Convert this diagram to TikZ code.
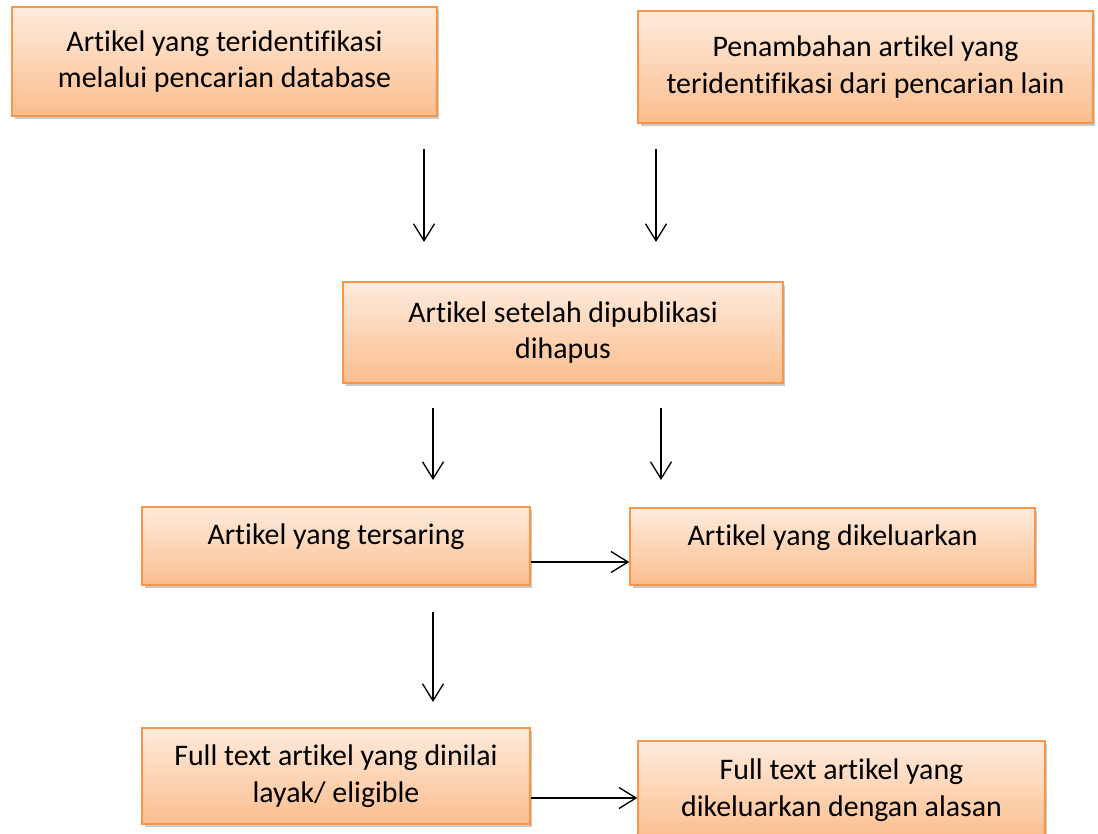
\documentclass[tikz,border=0pt]{standalone}
\usepackage{fontspec}
\setmainfont{Carlito}[Ligatures=NoCommon]
\usepackage{tikz}
\usetikzlibrary{arrows.meta,positioning,shadows}

\definecolor{boxtop}{RGB}{254,235,220}
\definecolor{boxbot}{RGB}{251,190,142}
\definecolor{boxline}{RGB}{247,150,70}

\begin{document}
\begin{tikzpicture}[
  x=0.02cm, y=-0.02cm,
  block/.style={rectangle, draw=boxline, line width=0.9pt, top color=boxtop,
                bottom color=boxbot, text centered, align=center,
                font=\fontsize{17pt}{21pt}\selectfont,
                drop shadow={shadow xshift=0.05cm, shadow yshift=-0.06cm,
                             opacity=0.35, fill=black!60}},
  arrow/.style={-{Straight Barb[length=0.34cm, width=0.42cm]}, line width=0.75pt},
]
  \useasboundingbox (0,0) rectangle (1098,834);
  \clip (0,0) rectangle (1098,834);

  % Nodes
  \node[block, minimum width=8.5cm, minimum height=2.18cm] (db) at (224.5,61.5)
    {Artikel yang teridentifikasi\\melalui pencarian database};
  \node[block, minimum width=9.1cm, minimum height=2.24cm] (lain) at (865.5,67)
    {Penambahan artikel yang\\teridentifikasi dari pencarian lain};
  \node[block, minimum width=8.8cm, minimum height=2.02cm] (hapus) at (563,332.5)
    {Artikel setelah dipublikasi\\dihapus};
  \node[block, minimum width=7.76cm, minimum height=1.56cm, text depth=0.46cm] (saring) at (336,546)
    {Artikel yang tersaring};
  \node[block, minimum width=8.1cm, minimum height=1.54cm, text depth=0.46cm] (keluar) at (832.5,546.5)
    {Artikel yang dikeluarkan};
  \node[block, minimum width=7.76cm, minimum height=1.92cm] (layak) at (336,776)
    {Full text artikel yang dinilai\\layak/ eligible};
  \node[block, minimum width=8.14cm, minimum height=1.96cm] (alasan) at (841.5,790)
    {Full text artikel yang\\dikeluarkan dengan alasan};

  % Free arrow ends
  \coordinate (a1) at (424,149);  \coordinate (b1) at (424,242);
  \coordinate (a2) at (656,149);  \coordinate (b2) at (656,242);
  \coordinate (a3) at (433,408);  \coordinate (b3) at (433,480);
  \coordinate (a4) at (661,408);  \coordinate (b4) at (661,480);
  \coordinate (a5) at (433,612);  \coordinate (b5) at (433,702);

  % Arrows
  \draw[arrow] (a1) -- (b1);
  \draw[arrow] (a2) -- (b2);
  \draw[arrow] (a3) -- (b3);
  \draw[arrow] (a4) -- (b4);
  \draw[arrow] ([yshift=-0.32cm]saring.east) -- ([yshift=-0.32cm]saring.east -| keluar.west);
  \draw[arrow] (a5) -- (b5);
  \draw[arrow] ([yshift=-0.44cm]layak.east) -- ([yshift=-0.44cm]layak.east -| alasan.west);
\end{tikzpicture}
\end{document}
